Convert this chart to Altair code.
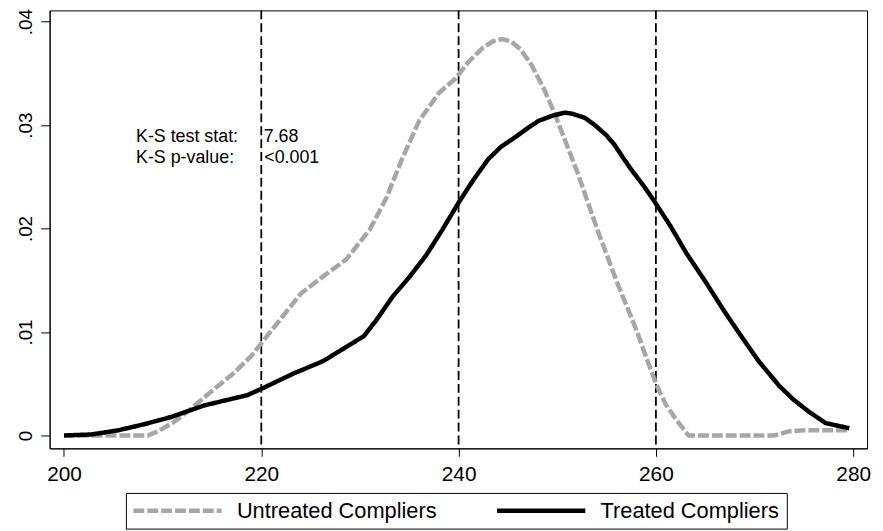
import altair as alt
import pandas as pd

# ---- data ----
untreated_x = [200, 203, 206, 208.5, 209.5, 211, 212, 214, 215.5, 217.3, 219, 220, 222, 224,
               226.3, 228.6, 230, 231, 232.7, 234.3, 236, 238, 239.7, 241, 242.5, 243.5, 244.4,
               245.3, 246.3, 247.4, 248.7, 249.7, 251, 252.1, 253, 254.1, 255, 256.1, 257, 258.1,
               259, 260.1, 261, 262, 263.3, 268, 272, 273.5, 275, 277, 279.5]
untreated_y = [0.0, 0.0, 0.0, 0.0, 0.0004, 0.0012, 0.0019, 0.0035, 0.0047, 0.0061, 0.0077, 0.0089,
               0.0113, 0.0137, 0.0154, 0.0170, 0.0187, 0.0199, 0.0230, 0.0268, 0.0304, 0.0331,
               0.0345, 0.0361, 0.0375, 0.0381, 0.0383, 0.0381, 0.0373, 0.0358, 0.0334, 0.0312,
               0.0280, 0.0253, 0.0228, 0.0198, 0.0175, 0.0147, 0.0126, 0.0100, 0.0076, 0.0048,
               0.0030, 0.0016, 0.0, 0.0, 0.0, 0.0004, 0.0005, 0.0005, 0.0005]

treated_x = [200, 202.8, 205.5, 208.2, 210.9, 214.2, 218.6, 220, 223.3, 226.3, 228, 230.4, 231.7,
             233.3, 235, 236.7, 238.3, 240, 241.5, 243, 244.3, 245.7, 247, 248.1, 249.5, 250.75,
             251.5, 252.8, 253.8, 255, 255.8, 256.7, 257.5, 258.7, 259.8, 261.5, 263.1, 265,
             266.8, 268.5, 270.4, 272.5, 273.9, 275.5, 277.2, 279.6]
treated_y = [0.0, 0.0001, 0.0005, 0.0011, 0.0018, 0.0029, 0.0039, 0.0045, 0.0060, 0.0072, 0.0082,
             0.0096, 0.0112, 0.0134, 0.0153, 0.0174, 0.0198, 0.0225, 0.0247, 0.0267, 0.0279,
             0.0288, 0.0297, 0.0304, 0.0309, 0.0312, 0.0311, 0.0307, 0.0300, 0.0290, 0.0281,
             0.0268, 0.0257, 0.0242, 0.0227, 0.0202, 0.0176, 0.0149, 0.0122, 0.0098, 0.0072,
             0.0048, 0.0035, 0.0023, 0.0012, 0.0007]

series_names = ["Untreated Compliers", "Treated Compliers"]
cutoffs = [220, 240, 260]
x_ticks = [200, 220, 240, 260, 280]
y_ticks = [0, 0.01, 0.02, 0.03, 0.04]

note_labels = ["K-S test stat:", "K-S p-value:"]
note_values = ["7.68", "<0.001"]
note_label_x = [207.3, 207.3]
note_value_x = [220.25, 220.3]
note_y = [0.02840, 0.02633]

# ---- tables ----
dens = pd.concat([
    pd.DataFrame({"x": untreated_x, "y": untreated_y, "group": series_names[0]}),
    pd.DataFrame({"x": treated_x, "y": treated_y, "group": series_names[1]}),
], ignore_index=True)
dens["order"] = range(len(dens))

rules = pd.DataFrame({"x": cutoffs})
notes_l = pd.DataFrame({"x": note_label_x, "y": note_y, "t": note_labels})
notes_v = pd.DataFrame({"x": note_value_x, "y": note_y, "t": note_values})

FONT = "Liberation Sans"

xscale = alt.Scale(domain=[198.544, 281.406], nice=False, zero=False)
yscale = alt.Scale(domain=[-0.001245, 0.041082], nice=False, zero=False)

xaxis = alt.Axis(values=x_ticks, title=None, grid=False, tickSize=8, tickColor="black",
                 domainColor="black", labelFontSize=21, labelFont=FONT, labelColor="black",
                 labelPadding=7, format="d", labelFlush=False)
yaxis = alt.Axis(values=y_ticks, title=None, grid=False, tickSize=9, tickColor="black",
                 domainColor="black", labelFontSize=19, labelFont=FONT, labelColor="black",
                 labelAngle=-90, labelAlign="center", labelBaseline="bottom", labelPadding=5,
                 labelFlush=False,
                 labelExpr="datum.value == 0 ? '0' : slice(format(datum.value, '.2f'), 1)")

# long horizontal legend sample: path drawn in units of sqrt(size)/2
LEGEND_PATH = "M-1.3,0H9.825"

lines = alt.Chart(dens).mark_line(strokeWidth=4.5, strokeCap="butt", strokeJoin="round").encode(
    x=alt.X("x:Q", scale=xscale, axis=xaxis),
    y=alt.Y("y:Q", scale=yscale, axis=yaxis),
    color=alt.Color("group:N",
                    scale=alt.Scale(domain=series_names, range=["#a6a6a6", "#000000"]),
                    legend=alt.Legend(title=None, orient="none", legendX=77, legendY=487,
                                      direction="horizontal", columns=2,
                                      symbolType=LEGEND_PATH, symbolSize=256,
                                      symbolStrokeWidth=4.5, labelFontSize=22,
                                      labelFont=FONT, labelColor="black", labelOffset=83,
                                      columnPadding=51, padding=7, strokeColor="black",
                                      fillColor="white", labelLimit=400)),
    strokeDash=alt.StrokeDash("group:N",
                              scale=alt.Scale(domain=series_names, range=[[11, 3], [1, 0]]),
                              legend=None),
    order="order:Q",
)

vlines = alt.Chart(rules).mark_rule(color="black", strokeWidth=1.8, strokeDash=[9, 4]).encode(
    x=alt.X("x:Q", scale=xscale)
)

txt_l = alt.Chart(notes_l).mark_text(align="left", baseline="alphabetic", fontSize=18,
                                     font=FONT, color="black").encode(
    x=alt.X("x:Q", scale=xscale), y=alt.Y("y:Q", scale=yscale), text="t:N")
txt_v = alt.Chart(notes_v).mark_text(align="left", baseline="alphabetic", fontSize=18,
                                     font=FONT, color="black").encode(
    x=alt.X("x:Q", scale=xscale), y=alt.Y("y:Q", scale=yscale), text="t:N")

chart = alt.layer(vlines, lines, txt_l, txt_v).properties(
    width=825, height=442,
    autosize=alt.AutoSizeParams(type="none"),
    padding={"left": 42, "top": 0, "right": 8, "bottom": 81},
    background="white",
).configure_view(stroke="black", strokeWidth=1)

chart.save("out.html", embed_options={"renderer": "svg", "actions": False})
